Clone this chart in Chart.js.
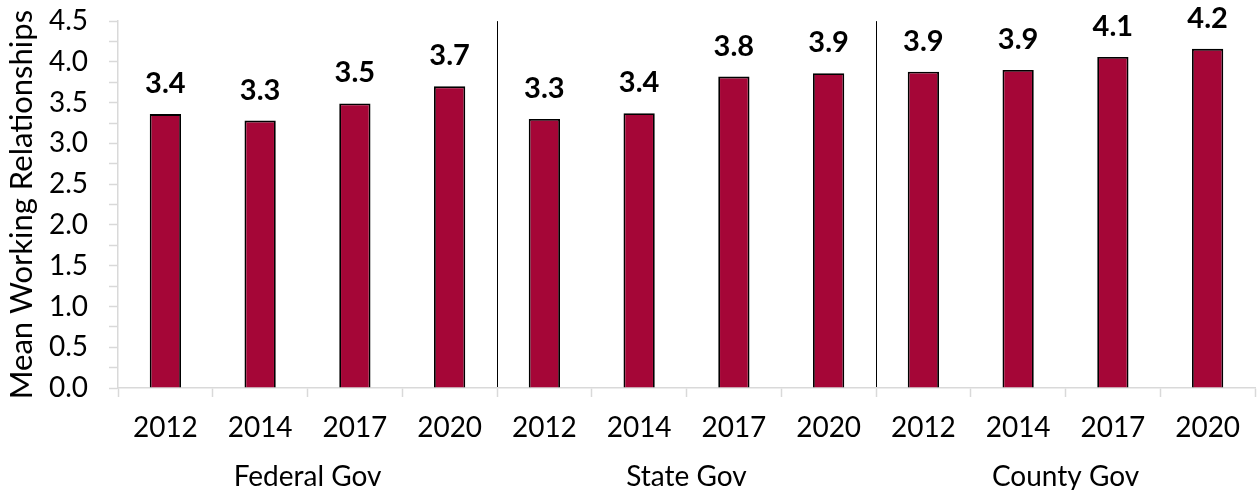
<!DOCTYPE html>
<html>
<head>
<meta charset="utf-8">
<script src="https://cdn.jsdelivr.net/npm/chart.js@4/dist/chart.umd.min.js"></script>
<style>
  html, body { margin: 0; padding: 0; background: #fff; }
  #wrap { width: 1257px; height: 490px; }
</style>
</head>
<body>
<div id="wrap"><canvas id="c" width="1257" height="490"></canvas></div>
<script>
// Survey years repeated for each level of government
const years = ['2012', '2014', '2017', '2020', '2012', '2014', '2017', '2020', '2012', '2014', '2017', '2020'];
const groups = ['Federal Gov', 'State Gov', 'County Gov'];
// Mean working-relationship scores: federal, state, county
const federal = [3.36, 3.28, 3.49, 3.70];
const state = [3.30, 3.37, 3.82, 3.86];
const county = [3.88, 3.90, 4.06, 4.16];
const yTicks = { min: 0, max: 4.5, step: 0.25 };

const values = federal.concat(state, county);
const FONT = 'Lato, "Open Sans", sans-serif';
const GRAY = '#d9d9d9';
const BAR = '#A50637';

// Bold value labels above each bar
const valueLabels = {
  id: 'valueLabels',
  afterDatasetsDraw(chart) {
    const ctx = chart.ctx;
    const meta = chart.getDatasetMeta(0);
    ctx.save();
    ctx.font = 'bold 29px ' + FONT;
    ctx.fillStyle = '#000';
    ctx.textAlign = 'center';
    ctx.textBaseline = 'alphabetic';
    meta.data.forEach((bar, i) => {
      const v = chart.data.datasets[0].data[i];
      ctx.fillText(v.toFixed(1), bar.x, bar.y - 21);
    });
    ctx.restore();
  }
};

new Chart(document.getElementById('c'), {
  type: 'bar',
  data: {
    labels: years,
    datasets: [{
      data: values,
      backgroundColor: BAR,
      borderColor: '#000',
      borderWidth: 1.8,
      barPercentage: 0.33,
      categoryPercentage: 1.0
    }]
  },
  options: {
    responsive: false,
    animation: false,
    devicePixelRatio: 1,
    layout: { padding: { top: 21, right: 2, left: 0, bottom: 0 } },
    plugins: { legend: { display: false }, tooltip: { enabled: false } },
    scales: {
      x: {
        type: 'category',
        position: 'bottom',
        weight: 1,
        offset: true,
        grid: {
          offset: true,
          drawOnChartArea: true,
          tickLength: 9,
          tickColor: GRAY,
          tickWidth: 1.5,
          lineWidth: 1,
          color: (ctx) => (ctx.index === 4 || ctx.index === 8) ? '#000' : 'rgba(0,0,0,0)'
        },
        border: { display: true, color: GRAY, width: 1.5 },
        ticks: {
          color: '#000',
          font: { family: FONT, size: 28 },
          padding: 14,
          maxRotation: 0,
          autoSkip: false
        },
        afterFit(scale) { scale.height = 56; }
      },
      x2: {
        type: 'category',
        position: 'bottom',
        weight: 2,
        labels: groups,
        offset: true,
        grid: { display: false, drawTicks: false },
        border: { display: false },
        ticks: {
          color: '#000',
          font: { family: FONT, size: 28 },
          padding: 16,
          maxRotation: 0,
          autoSkip: false
        },
        afterFit(scale) { scale.height = 46; }
      },
      y: {
        min: yTicks.min,
        max: yTicks.max,
        grid: {
          drawOnChartArea: false,
          tickLength: 9,
          tickColor: GRAY,
          tickWidth: 1.5
        },
        border: { display: true, color: GRAY, width: 1.5 },
        ticks: {
          stepSize: yTicks.step,
          color: '#000',
          font: { family: FONT, size: 28, lineHeight: 0.01 },
          padding: 0,
          callback: (v) => (Math.round(v * 100) % 50 === 0) ? v.toFixed(1) : ''
        },
        title: {
          display: true,
          text: 'Mean Working Relationships',
          color: '#000',
          font: { family: FONT, size: 31 },
          padding: { top: 3, bottom: 6 }
        },
        afterFit(scale) {
          scale.width = 118;
          // keep the tick labels clear of the tick marks
          scale.options.ticks.padding = 21;
        }
      }
    }
  },
  plugins: [valueLabels]
});
</script>
</body>
</html>
